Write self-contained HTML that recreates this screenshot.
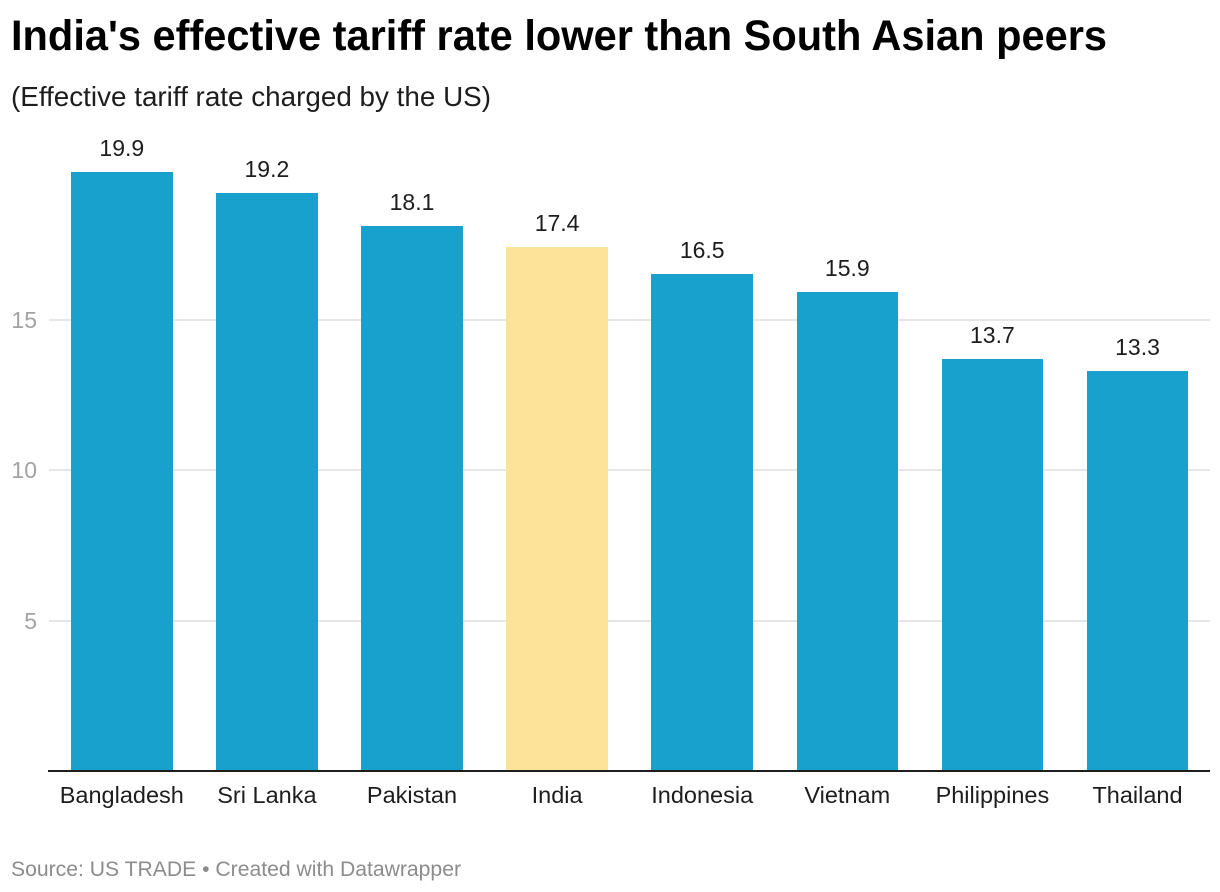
<!DOCTYPE html>
<html lang="en">
<head>
<meta charset="utf-8">
<title>India's effective tariff rate lower than South Asian peers</title>
<style>
  html, body { margin: 0; padding: 0; background: #fff; }
  svg { display: block; font-family: "Liberation Sans", sans-serif; }
</style>
</head>
<body>
<svg id="chart" xmlns="http://www.w3.org/2000/svg" width="1220" height="892" viewBox="0 0 1220 892">
  <rect x="0" y="0" width="1220" height="892" fill="#ffffff"/>
  <text x="11" y="50" font-size="43" font-weight="700" fill="#000000" textLength="1096" lengthAdjust="spacingAndGlyphs">India's effective tariff rate lower than South Asian peers</text>
  <text x="11" y="106" font-size="28" fill="#1d1d1d" textLength="480" lengthAdjust="spacingAndGlyphs">(Effective tariff rate charged by the US)</text>
  <g id="grid"></g>
  <g id="bars"></g>
  <line x1="48" x2="1210" y1="771" y2="771" stroke="#1d1d1d" stroke-width="2"/>
  <text x="11" y="876" font-size="21" fill="#8c8c8c" textLength="450" lengthAdjust="spacingAndGlyphs">Source: US TRADE • Created with Datawrapper</text>
</svg>
<script>
const categories = ['Bangladesh', 'Sri Lanka', 'Pakistan', 'India', 'Indonesia', 'Vietnam', 'Philippines', 'Thailand'];
const values = [19.9, 19.2, 18.1, 17.4, 16.5, 15.9, 13.7, 13.3];
const highlighted = ['India'];
const yTicks = [5, 10, 15];

const SVG_NS = 'http://www.w3.org/2000/svg';
const plotLeft = 49;
const plotRight = 1210;
const barsLeft = 71;
const barStep = 145.1;
const barWidth = 101.6;
const baseY = 771;
const unit = 30.1;

function yScale(v) { return Math.round(baseY - v * unit); }
function xScale(i) { return barsLeft + i * barStep; }
function make(tag, attrs, parent, text) {
  const el = document.createElementNS(SVG_NS, tag);
  for (const k in attrs) el.setAttribute(k, attrs[k]);
  if (text !== undefined) el.textContent = text;
  parent.appendChild(el);
  return el;
}

const gridG = document.getElementById('grid');
yTicks.forEach(function (t) {
  const line = make('line', { x1: plotLeft, x2: plotRight, y1: yScale(t), y2: yScale(t), stroke: '#e6e6e6', 'stroke-width': 2 }, gridG);
  
  
  const label = make('text', { x: 37, y: yScale(t) + 8, 'font-size': 23, fill: '#a3a3a3', 'text-anchor': 'end' }, gridG, String(t));
  
  
});

const barsG = document.getElementById('bars');
categories.forEach(function (c, i) {
  const v = values[i];
  const left = Math.round(xScale(i));
  const right = Math.round(xScale(i) + barWidth);
  const top = yScale(v);
  const cx = xScale(i) + barWidth / 2;
  const slug = c.toLowerCase().replace(/\s+/g, '-');
  const bar = make('rect', { x: left, y: top, width: right - left, height: baseY - top, fill: highlighted.indexOf(c) >= 0 ? '#fde29a' : '#18a1cd', 'shape-rendering': 'crispEdges' }, barsG);
  
  
  const val = make('text', { x: cx, y: top - 16, 'font-size': 23, fill: '#1d1d1d', 'text-anchor': 'middle' }, barsG, v.toFixed(1));
  
  
  const cat = make('text', { x: cx, y: 803, 'font-size': 23.5, fill: '#1d1d1d', 'text-anchor': 'middle' }, barsG, c);
  
  
});
</script>
</body>
</html>
